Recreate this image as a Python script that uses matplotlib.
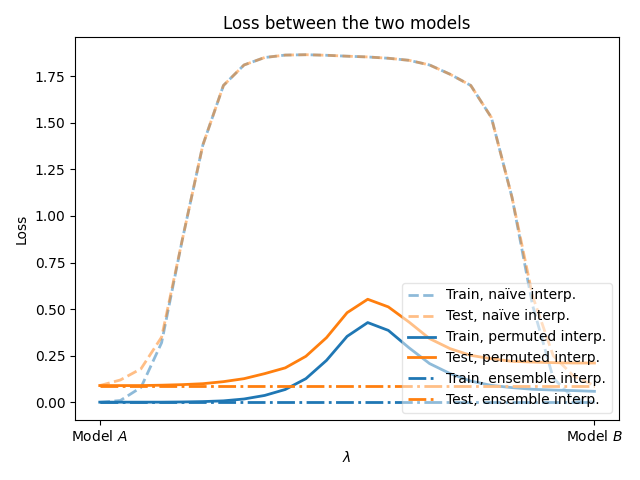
import numpy as np
import matplotlib.pyplot as plt

lambdas = np.linspace(0, 1, 25)

# naive (straight) interpolation between the two models
naive_train = [0.00, 0.01, 0.08, 0.32, 0.87, 1.38, 1.70, 1.81, 1.85, 1.863,
               1.865, 1.862, 1.857, 1.853, 1.846, 1.835, 1.81, 1.76, 1.70, 1.528,
               1.10, 0.52, 0.13, 0.02, 0.00]
naive_test = [0.09, 0.12, 0.18, 0.35, 0.87, 1.38, 1.70, 1.81, 1.85, 1.863,
              1.865, 1.862, 1.857, 1.853, 1.846, 1.835, 1.81, 1.76, 1.70, 1.528,
              1.10, 0.57, 0.25, 0.14, 0.09]

# permuted interpolation
perm_train = [0.001, 0.001, 0.001, 0.001, 0.002, 0.004, 0.008, 0.018, 0.037, 0.069,
              0.127, 0.225, 0.354, 0.428, 0.386, 0.293, 0.208, 0.154, 0.114, 0.091,
              0.079, 0.070, 0.066, 0.063, 0.059]
perm_test = [0.09, 0.09, 0.09, 0.092, 0.095, 0.100, 0.111, 0.127, 0.154, 0.185,
             0.247, 0.347, 0.481, 0.553, 0.512, 0.431, 0.342, 0.288, 0.252, 0.234,
             0.220, 0.216, 0.213, 0.211, 0.211]

# ensembling
ens_train = [0.001] * 25
ens_test = [0.09] * 25

plt.figure()
plt.plot(lambdas, naive_train, color='tab:blue', linestyle='dashed', linewidth=2, alpha=0.5, label='Train, naïve interp.')
plt.plot(lambdas, naive_test, color='tab:orange', linestyle='dashed', linewidth=2, alpha=0.5, label='Test, naïve interp.')
plt.plot(lambdas, perm_train, color='tab:blue', linestyle='solid', linewidth=2, label='Train, permuted interp.')
plt.plot(lambdas, perm_test, color='tab:orange', linestyle='solid', linewidth=2, label='Test, permuted interp.')
plt.plot(lambdas, ens_train, color='tab:blue', linestyle='dashdot', linewidth=2, label='Train, ensemble interp.')
plt.plot(lambdas, ens_test, color='tab:orange', linestyle='dashdot', linewidth=2, label='Test, ensemble interp.')

plt.xlabel('$\\lambda$')
plt.xticks([0, 1], ['Model $A$', 'Model $B$'])
plt.ylabel('Loss')
plt.title('Loss between the two models')
plt.legend(loc='lower right', framealpha=0.5)
plt.tight_layout()
plt.savefig('out.png', dpi=100)
